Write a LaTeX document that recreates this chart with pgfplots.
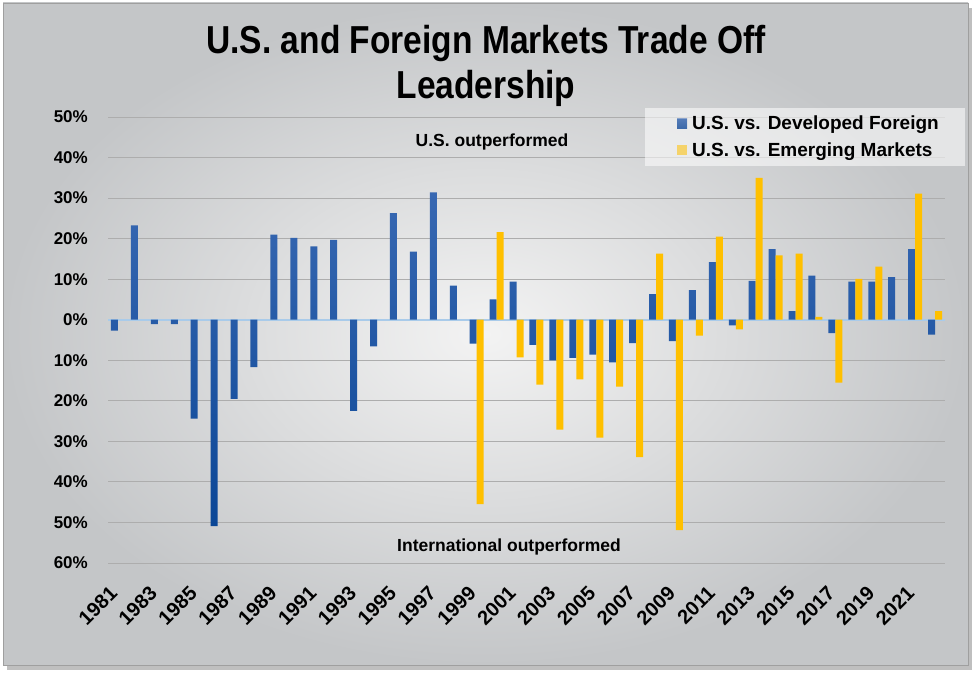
\documentclass[border=0pt]{standalone}
\usepackage{fontspec}
\setmainfont{Liberation Sans}
\newfontfamily\titlefont[FakeStretch=0.86]{Liberation Sans}
\usepackage{pgfplots}
\pgfplotsset{compat=1.18}

\definecolor{devblue}{HTML}{1A4F9E}
\definecolor{devblueL}{HTML}{3868B2}
\definecolor{devblueD}{HTML}{0A4696}
\definecolor{emyellow}{HTML}{FFC000}
\definecolor{zeroblue}{HTML}{A9CBEA}
\definecolor{gridgray}{HTML}{ADADAD}
\definecolor{bgin}{HTML}{F3F3F3}
\definecolor{bgout}{HTML}{C4C6C8}

\begin{document}
\begin{tikzpicture}
\useasboundingbox (0,0) rectangle (975pt,675pt);
\fill[white] (0,0) rectangle (975pt,675pt);
% panel with shadow
\fill[gray!50] (7pt,5pt) rectangle (972pt,667pt);
\shade[inner color=bgin, outer color=bgout] (3pt,10pt) rectangle (968pt,672pt);
\draw[gray!75, line width=0.6pt] (3pt,10pt) rectangle (968pt,672pt);

% title (two lines)
\node[font=\titlefont\bfseries\fontsize{39}{45}\selectfont, anchor=base] at (486pt,621pt)
  {U.S. and Foreign Markets Trade Off};
\node[font=\titlefont\bfseries\fontsize{39}{45}\selectfont, anchor=base] at (486pt,576pt)
  {Leadership};

\begin{axis}[
    at={(108pt,112pt)}, anchor=south west,
    scale only axis, width=837pt, height=446pt,
    ybar=0pt, bar width=7pt,
    xmin=1980.5, xmax=2022.5,
    ymin=-60, ymax=50,
    ytick={-60,-50,...,50},
    xtick={1981,1983,...,2021},
    axis line style={draw=none},
    tick style={draw=none},
    ymajorgrids,
    grid style={gridgray, line width=0.9pt},
    extra y ticks={0},
    extra y tick labels={},
    extra y tick style={grid style={zeroblue, line width=1.6pt}},
    /pgf/number format/assume math mode=true,
    yticklabel={\pgfmathparse{abs(\tick)}\pgfmathprintnumber[fixed,precision=0]{\pgfmathresult}\%},
    xticklabel={\pgfmathprintnumber[fixed,precision=0,1000 sep={}]{\tick}},
    yticklabel style={font=\bfseries\fontsize{17}{17}\selectfont, anchor=east, inner sep=0pt, xshift=-20pt},
    xticklabel style={font=\bfseries\fontsize{20}{20}\selectfont, rotate=45, anchor=east, inner sep=0pt, xshift=-19pt, yshift=-13pt},
    legend cell align=left,
    legend style={at={(1,1)}, anchor=north east, xshift=20pt, yshift=9pt,
        draw=none, fill=white, fill opacity=0.55, text opacity=1,
        font=\bfseries\fontsize{19}{21}\selectfont, row sep=7pt,
        inner xsep=14pt, inner ysep=6pt},
]
% U.S. vs. Developed Foreign
\addplot[draw=none, top color=devblueL, bottom color=devblueD,
    legend image code/.code={\path (0pt,0pt) (31pt,0pt); \fill[devblue] (18pt,-5pt) rectangle (28pt,5pt);}]
coordinates {
(1981,-2.7) (1982,23.3) (1983,-1.1) (1984,-1.1) (1985,-24.4) (1986,-50.9)
(1987,-19.5) (1988,-11.7) (1989,21.0) (1990,20.2) (1991,18.1) (1992,19.7)
(1993,-22.5) (1994,-6.6) (1995,26.3) (1996,16.8) (1997,31.4) (1998,8.4)
(1999,-5.9) (2000,5.0) (2001,9.4) (2002,-6.2) (2003,-10.0) (2004,-9.4)
(2005,-8.6) (2006,-10.5) (2007,-5.8) (2008,6.3) (2009,-5.3) (2010,7.3)
(2011,14.2) (2012,-1.4) (2013,9.6) (2014,17.4) (2015,2.1) (2016,10.9)
(2017,-3.3) (2018,9.4) (2019,9.4) (2020,10.5) (2021,17.4) (2022,-3.7)
};
% U.S. vs. Emerging Markets
\addplot[draw=none, fill=emyellow,
    legend image code/.code={\path (0pt,0pt) (31pt,0pt); \fill[emyellow] (18pt,-5pt) rectangle (28pt,5pt);}]
coordinates {
(1999,-45.5) (2000,21.6) (2001,-9.3) (2002,-16.0) (2003,-27.1) (2004,-14.7)
(2005,-29.1) (2006,-16.5) (2007,-33.9) (2008,16.3) (2009,-51.9) (2010,-3.9)
(2011,20.5) (2012,-2.4) (2013,35.0) (2014,15.9) (2015,16.3) (2016,0.7)
(2017,-15.5) (2018,10.1) (2019,13.1) (2021,31.1) (2022,2.1)
};
\legend{U.S. vs. Developed Foreign\hspace*{10pt}, U.S. vs. Emerging Markets\hspace*{10pt}}
\end{axis}

\node[font=\bfseries\fontsize{17.5}{18}\selectfont] at (492pt,533pt) {U.S. outperformed};
\node[font=\bfseries\fontsize{17.5}{18}\selectfont] at (509pt,128pt) {International outperformed};
\end{tikzpicture}
\end{document}
